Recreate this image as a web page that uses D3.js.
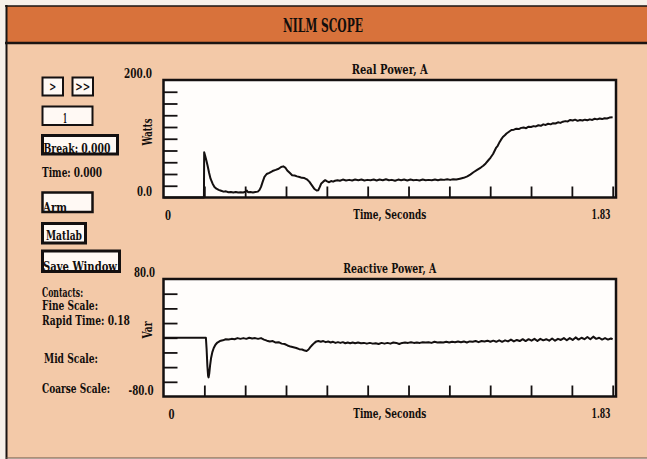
<!DOCTYPE html>
<html>
<head>
<meta charset="utf-8">
<title>NILM Scope</title>
<script src="https://cdn.jsdelivr.net/npm/d3@7"></script>
<style>
  html, body { margin: 0; padding: 0; background: #f7f0e9; overflow: hidden; }
  text { font-family: "DejaVu Serif", "Liberation Serif", serif; font-weight: bold; fill: #120e0c; }
</style>
</head>
<body>
<svg id="scope" width="647" height="459"></svg>
<script>
// ---- Recorded traces: [time (s), value] ----
const realPower = [
  [0.000,0],[0.165,0],[0.166,77],[0.170,71],[0.175,63],[0.180,54],[0.186,42],[0.192,32],[0.200,24],
  [0.208,18],[0.216,15],[0.225,13],[0.235,11.5],[0.245,10],[0.255,10.5],[0.265,9],[0.275,9.5],
  [0.285,8.5],[0.295,9.5],[0.305,8.5],[0.315,9],[0.325,8.5],[0.335,10],[0.340,12],[0.345,9],
  [0.355,9.5],[0.365,8.5],[0.375,9.5],[0.385,10],[0.392,13],[0.398,18],[0.405,27],[0.412,35],
  [0.421,40],[0.432,42],[0.445,45],[0.458,47],[0.470,49],[0.480,52],[0.489,53],[0.497,51],
  [0.505,46],[0.515,42],[0.525,38],[0.535,37.5],[0.545,36],[0.555,35],[0.565,33.5],[0.575,33],
  [0.585,31],[0.595,27],[0.605,21],[0.615,15],[0.625,12],[0.632,12.5],[0.638,18],[0.644,24],
  [0.652,27],[0.660,29.5],[0.668,27.5],[0.676,26],[0.684,28],[0.692,27],[0.700,28.5],[0.710,29.5],
  [0.720,28.5],[0.732,30.5],[0.745,29],[0.758,30],[0.770,29],[0.782,30.5],[0.795,29.5],[0.808,30.5],
  [0.820,29],[0.832,30],[0.845,29.5],[0.858,30.5],[0.870,29],[0.882,30.5],[0.895,29.5],[0.908,31],
  [0.920,29.5],[0.932,30],[0.945,28.5],[0.958,30.5],[0.970,29.5],[0.982,30.5],[0.995,29],[1.008,30.5],
  [1.020,29.5],[1.032,30],[1.045,29],[1.058,30.5],[1.070,29.5],[1.082,30],[1.095,29.5],[1.108,30.5],
  [1.120,29.5],[1.132,30.5],[1.145,30],[1.158,31],[1.170,30],[1.182,31],[1.195,30.5],[1.210,32],
  [1.225,33.5],[1.240,36],[1.252,39],[1.265,43],[1.280,47],[1.295,51],[1.305,54],[1.315,58],
  [1.325,63],[1.335,68],[1.345,74],[1.352,80],[1.358,85],[1.364,88],[1.370,93],[1.377,98],
  [1.385,103],[1.393,106],[1.400,109],[1.410,112],[1.420,115],[1.430,115.5],[1.440,117],[1.450,116.5],
  [1.460,118.5],[1.470,119],[1.480,118],[1.490,120.5],[1.500,120],[1.510,121.5],[1.520,121],[1.530,123],
  [1.540,122],[1.550,124.5],[1.560,123.5],[1.570,125.5],[1.580,124.5],[1.590,126.5],[1.600,126],
  [1.610,128],[1.620,127],[1.630,129],[1.640,130],[1.650,129.5],[1.660,132],[1.670,131],[1.680,132.5],
  [1.690,130.5],[1.700,132],[1.710,131],[1.720,132.5],[1.730,131.5],[1.740,133],[1.750,132],
  [1.760,134],[1.770,133],[1.780,134.5],[1.790,133.5],[1.800,135],[1.810,134.5],[1.820,136],[1.833,136.5]
];

const reactivePower = [
  [0.000,0],[0.173,0],[0.176,-16],[0.179,-38],[0.182,-52],[0.184,-54],[0.187,-48],[0.190,-38],
  [0.194,-28],[0.199,-20],[0.205,-14],[0.212,-9.5],[0.220,-6.5],[0.230,-4.5],[0.242,-3.5],[0.254,-2],
  [0.266,-2.5],[0.278,-1.5],[0.290,-2],[0.302,-0.5],[0.314,-1.5],[0.326,-0.5],[0.338,-1.5],[0.350,0],
  [0.362,-1],[0.374,-0.5],[0.386,-1.5],[0.398,-0.5],[0.410,-2.5],[0.422,-4],[0.434,-5],[0.446,-4.5],
  [0.458,-6.5],[0.470,-6],[0.482,-8],[0.494,-8.5],[0.506,-10.5],[0.518,-12],[0.530,-13],[0.542,-14],
  [0.554,-15.5],[0.566,-16],[0.576,-17.5],[0.584,-18],[0.592,-16],[0.600,-12.5],[0.608,-9.5],
  [0.616,-7],[0.624,-5],[0.632,-4.5],[0.642,-5.5],[0.652,-4.5],[0.662,-6],[0.672,-5],[0.682,-6.5],
  [0.692,-5.5],[0.702,-7],[0.712,-6],[0.722,-7],[0.732,-6],[0.742,-7.5],[0.752,-6.5],[0.762,-7.5],
  [0.772,-6.5],[0.782,-7.5],[0.794,-6.5],[0.806,-7.5],[0.818,-7],[0.830,-8],[0.842,-7],[0.854,-8],
  [0.866,-7.5],[0.878,-8.5],[0.890,-7],[0.902,-8],[0.914,-7],[0.926,-8],[0.938,-6.5],[0.950,-7],
  [0.962,-8.5],[0.974,-7],[0.986,-6.5],[0.998,-7],[1.010,-6],[1.022,-7],[1.034,-6.5],[1.046,-7],
  [1.058,-6],[1.070,-6.5],[1.082,-6],[1.094,-7],[1.106,-5.5],[1.118,-6.5],[1.130,-6],[1.142,-6.5],
  [1.154,-5.5],[1.166,-6.5],[1.178,-5.5],[1.190,-6],[1.202,-5],[1.214,-6],[1.226,-5],[1.238,-6.5],
  [1.250,-5],[1.262,-5.5],[1.274,-4.5],[1.286,-6],[1.298,-4.5],[1.310,-5],[1.322,-4],[1.334,-5.5],
  [1.346,-4],[1.358,-5.5],[1.370,-3.5],[1.382,-5.5],[1.394,-3.5],[1.406,-5],[1.418,-2.5],[1.430,-5],
  [1.442,-3],[1.454,-4.5],[1.466,-2],[1.478,-4.5],[1.490,-2],[1.502,-4],[1.514,-1.5],[1.526,-4.5],
  [1.538,-1.5],[1.550,-3.5],[1.562,-2],[1.574,-4],[1.586,-1],[1.598,-4],[1.610,-1.5],[1.622,-3],
  [1.634,-0.5],[1.646,-3.5],[1.658,-0.5],[1.670,-3],[1.682,0.5],[1.694,-2.5],[1.706,0],[1.718,-2],
  [1.730,1],[1.742,-2],[1.754,1.5],[1.766,-1.5],[1.778,0],[1.790,-2.5],[1.802,-0.5],[1.814,-2.5],
  [1.826,-1],[1.833,-2]
];

// ---- Axis settings ----
const timeDomain = [0, 1.8333];
const timeTicks = [0.1667, 0.3333, 0.5, 0.6667, 0.8333, 1.0, 1.1667, 1.3333, 1.5, 1.6667, 1.8333];
const timeLabels = ["0", "1.83"];
const realDomain = [0, 200];
const realTicks = [20, 40, 60, 80, 100, 120, 140, 160, 180];
const reactiveDomain = [-80, 80];
const reactiveTicks = [-60, -40, -20, 0, 20, 40, 60];

// ---- Side panel contents ----
const buttonsRow = [">", ">>"];
const sideReadouts = ["Time: 0.000", "Contacts:", "Fine Scale:", "Rapid Time: 0.18", "Mid Scale:", "Coarse Scale:"];

const svg = d3.select("#scope");

function label(s, x, y, o = {}) {
  const t = svg.append("text")
    .attr("x", x).attr("y", y)
    .attr("font-size", o.size || 12.5)
    .attr("text-anchor", o.anchor || "start")
    .text(s);
  if (o.w) t.attr("textLength", o.w).attr("lengthAdjust", "spacingAndGlyphs");
  if (o.rotate) t.attr("transform", `rotate(-90,${x},${y})`);
  return t;
}

// ---- Window frame ----
svg.append("rect").attr("x", 6).attr("y", 6).attr("width", 641).attr("height", 452).attr("fill", "#f3c9a8");
svg.append("rect").attr("x", 6).attr("y", 6).attr("width", 641).attr("height", 37).attr("fill", "#d8723b");
svg.append("line").attr("x1", 5).attr("x2", 647).attr("y1", 6).attr("y2", 6).attr("stroke", "#1a1412").attr("stroke-width", 1.5);
svg.append("line").attr("x1", 5).attr("x2", 647).attr("y1", 43).attr("y2", 43).attr("stroke", "#1a1412").attr("stroke-width", 2.5);
svg.append("line").attr("x1", 6.5).attr("x2", 6.5).attr("y1", 5).attr("y2", 459).attr("stroke", "#1a1412").attr("stroke-width", 2);
svg.append("line").attr("x1", 6).attr("x2", 647).attr("y1", 458).attr("y2", 458).attr("stroke", "#6b5344").attr("stroke-width", 1);

label("NILM SCOPE", 323, 31.5, { anchor: "middle", size: 19, w: 80 });

// ---- Side panel controls ----
function button(x, y, w, h, sw) {
  svg.append("rect").attr("x", x).attr("y", y).attr("width", w).attr("height", h)
    .attr("fill", "#fff9f4").attr("stroke", "#141010").attr("stroke-width", sw);
}
button(42.5, 77.5, 20.5, 18, 2);
button(72.5, 77.5, 20.5, 18, 2);
label(buttonsRow[0], 52.7, 91, { anchor: "middle", size: 12, w: 7 });
label(buttonsRow[1], 82.7, 91, { anchor: "middle", size: 12, w: 15 });

button(42.5, 106.5, 50, 18.5, 2);
label("1", 65, 123, { anchor: "middle", size: 12.5, w: 4 });

button(42.5, 135.5, 75, 18.5, 3);
label("Break: 0.000", 43.5, 153, { w: 67 });

label(sideReadouts[0], 42, 177, { w: 60 });

button(42.5, 192.5, 50, 19.5, 2.5);
label("Arm", 43, 211.5, { w: 24 });

button(42.5, 223.5, 43, 19.5, 3);
label("Matlab", 46, 239.5, { w: 36 });

button(42.5, 251, 77, 20.5, 3);
label("Save Window", 43, 271, { w: 74 });

label(sideReadouts[1], 42, 296.5, { size: 12, w: 41 });
label(sideReadouts[2], 42, 310, { size: 12, w: 56 });
label(sideReadouts[3], 42, 324.5, { size: 12, w: 88 });
label(sideReadouts[4], 44, 362.5, { size: 12, w: 54 });
label(sideReadouts[5], 42, 393, { size: 12, w: 68 });

// ---- Trace panels ----
function panel(cfg) {
  const x = d3.scaleLinear().domain(timeDomain).range([cfg.left, cfg.xEnd]);
  const y = d3.scaleLinear().domain(cfg.domain).range([cfg.bottom, cfg.top]);

  svg.append("rect")
    .attr("x", cfg.left).attr("y", cfg.top)
    .attr("width", cfg.right - cfg.left).attr("height", cfg.bottom - cfg.top)
    .attr("fill", "#fffdfb");

  // inward tick marks on the left edge
  const yAxis = svg.append("g")
    .attr("transform", `translate(${cfg.left},0)`)
    .call(d3.axisLeft(y).tickValues(cfg.ticks).tickSize(-14).tickFormat(""));
  yAxis.select(".domain").remove();
  yAxis.selectAll("line").attr("stroke", "#141010").attr("stroke-width", 1.8);

  // upward tick marks on the bottom edge
  const xAxis = svg.append("g")
    .attr("transform", `translate(0,${cfg.bottom})`)
    .call(d3.axisBottom(x).tickValues(timeTicks).tickSize(-11).tickFormat(""));
  xAxis.select(".domain").remove();
  xAxis.selectAll("line").attr("stroke", "#141010").attr("stroke-width", 1.8);

  const line = d3.line().x(d => x(d[0])).y(d => y(d[1]));
  svg.append("path")
    .datum(cfg.data)
    .attr("d", line)
    .attr("fill", "none")
    .attr("stroke", "#141010")
    .attr("stroke-width", 2)
    .attr("stroke-linejoin", "round");

  svg.append("rect")
    .attr("x", cfg.left).attr("y", cfg.top)
    .attr("width", cfg.right - cfg.left).attr("height", cfg.bottom - cfg.top)
    .attr("fill", "none").attr("stroke", "#141010").attr("stroke-width", 2.5);

  label(cfg.title, (cfg.left + cfg.right) / 2, cfg.top - 6.5, { anchor: "middle", w: cfg.titleW });
  label(cfg.domain[1].toFixed(1), cfg.maxX, cfg.top - 2.5, { anchor: "end", size: 13, w: cfg.maxW });
  label(cfg.domain[0].toFixed(1), cfg.minX, cfg.bottom - 1.5, { anchor: "end", size: 13, w: cfg.minW });
  label(cfg.unit, 152, cfg.unitY, { anchor: "middle", size: 13.5, w: cfg.unitW, rotate: true });
  label(timeLabels[0], cfg.zeroX, cfg.bottom + 22.5, { anchor: "middle", size: 13, w: 6 });
  label("Time, Seconds", (cfg.left + cfg.right) / 2, cfg.bottom + 21.5, { anchor: "middle", w: 73 });
  label(timeLabels[1], 610.5, cfg.bottom + 21.5, { anchor: "end", size: 13, w: 19 });
}

panel({
  data: realPower, domain: realDomain, ticks: realTicks,
  left: 163.5, xEnd: 612.7, right: 616, top: 80, bottom: 197.5,
  title: "Real Power, A", titleW: 76, unit: "Watts", unitY: 132, unitW: 27,
  maxX: 152, maxW: 28, minX: 152, minW: 15, zeroX: 168
});

panel({
  data: reactivePower, domain: reactiveDomain, ticks: reactiveTicks,
  left: 163.5, xEnd: 612.7, right: 616, top: 279, bottom: 396.5,
  title: "Reactive Power, A", titleW: 93, unit: "Var", unitY: 330, unitW: 17,
  maxX: 155, maxW: 21, minX: 153.5, minW: 25, zeroX: 171.5
});
</script>
</body>
</html>
